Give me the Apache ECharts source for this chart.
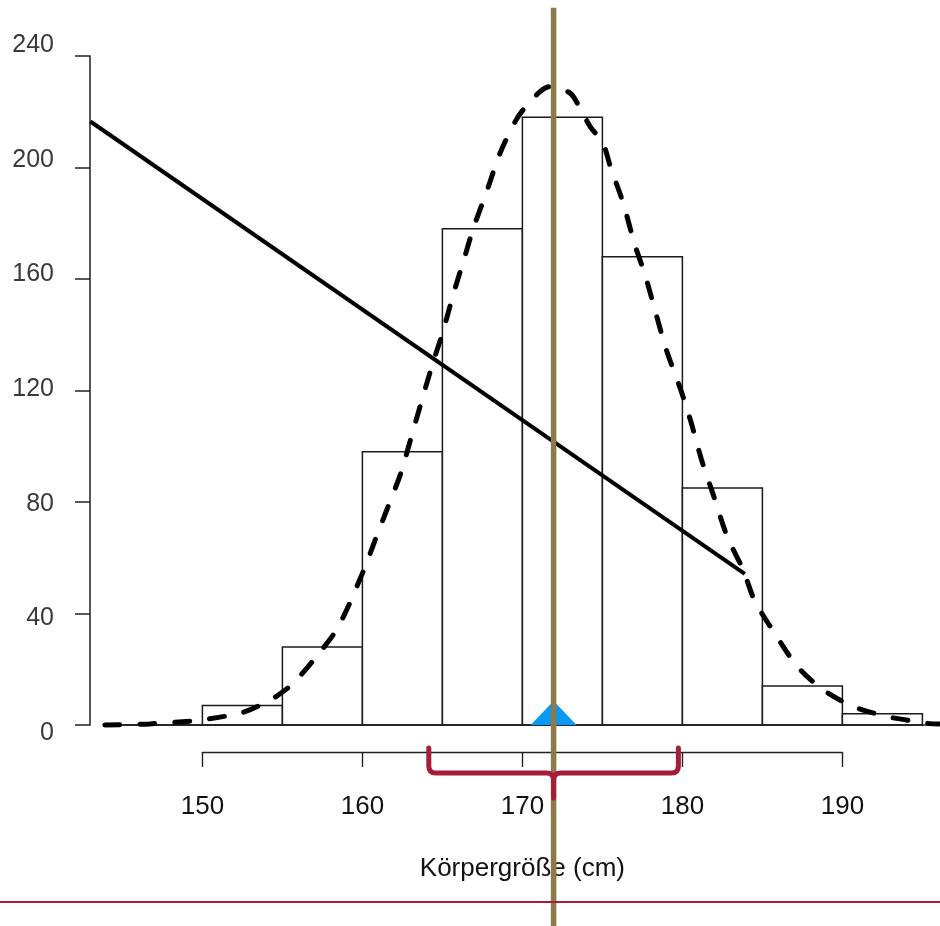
<!DOCTYPE html>
<html>
<head>
<meta charset="utf-8">
<script src="https://cdn.jsdelivr.net/npm/echarts@6/dist/echarts.min.js"></script>
<style>
html,body{margin:0;padding:0;background:#fff;}
#chart{width:940px;height:926px;}
</style>
</head>
<body>
<div id="chart"></div>
<script>
// ---------------- data ----------------
const binEdges = [145, 150, 155, 160, 165, 170, 175, 180, 185, 190, 195];
const counts   = [0, 7, 28, 98, 178, 218, 168, 85, 14, 4];

const densityX = [143.9, 146.7, 149.9, 152.4, 153.5, 154.6, 155.7, 157.2, 158.5, 160.0, 160.8, 161.6, 162.4, 163.0,
                  163.6, 164.4, 165.0, 165.7, 166.4, 166.9, 167.8, 168.6, 169.6, 170.2, 171.1, 171.7, 173.0, 173.6,
                  174.3, 175.0, 175.5, 176.3, 177.0, 177.7, 178.4, 179.0, 179.9, 180.5, 181.2, 181.9, 182.8, 183.8,
                  184.5, 185.7, 187.2, 188.8, 190.7, 192.8, 194.0, 195.3, 196.2];
const densityY = [0, 0.4, 1.8, 4.3, 6.8, 10.2, 15.1, 25.1, 35.3, 54.4, 66.4, 78.3, 90.3, 102.2,
                  114.2, 129.8, 140.5, 154.9, 168.0, 177.6, 191.9, 205.1, 217.0, 221.8, 227.2, 229.0, 226.6, 221.2,
                  214.1, 209.3, 200.3, 187.2, 172.8, 160.8, 146.5, 134.5, 120.2, 109.4, 95.1, 83.1, 67.6, 55.6,
                  44.8, 33.5, 20.9, 12.6, 6.6, 3.0, 1.8, 0.6, 0.3];

const regressionX = [143.0, 183.9];
const regressionY = [216.5, 54.2];

const meanHeight = 171.95;
const sdHeight = 7.8;
const goldLineY = [257.3, -80];

const yTickValues = [0, 40, 80, 120, 160, 200, 240];
const xTickValues = [150, 160, 170, 180, 190];
const xTitle = 'Körpergröße (cm)';

// ---------------- layout ----------------
const W = 940, H = 926;
const PX_PER_CM = 16;
const X150_PX = 202.4;
const Y0_PX = 725, Y240_PX = 56;
const PX_PER_UNIT = (Y0_PX - Y240_PX) / 240;
const xMin = 150 - X150_PX / PX_PER_CM;
const xMax = xMin + W / PX_PER_CM;
const yMax = Y0_PX / PX_PER_UNIT;
const yMin = -(H - Y0_PX) / PX_PER_UNIT;

const FONT = "'Liberation Sans', Arial, Helvetica, sans-serif";
const RED = '#a51d3b';

const histData = counts.map((c, i) => [binEdges[i], binEdges[i + 1], c]);
const densityData = densityX.map((x, i) => [x, densityY[i]]);
const regressionData = regressionX.map((x, i) => [x, regressionY[i]]);

const chart = echarts.init(document.getElementById('chart'), null, {renderer: 'canvas'});

const option = {
  animation: false,
  backgroundColor: '#ffffff',
  textStyle: {fontFamily: FONT},
  grid: [
    {left: 0, top: 0, width: W, height: H},                                   // data overlay
    {left: 90, top: Y240_PX, width: 10, height: Y0_PX - Y240_PX},             // y axis
    {left: 90, top: 45, width: 10, height: 688},                              // y labels
    {left: X150_PX, top: 740, width: 40 * PX_PER_CM, height: 12}              // x axis
  ],
  xAxis: [
    {gridIndex: 0, type: 'value', min: xMin, max: xMax, show: false},
    {gridIndex: 1, type: 'value', min: 0, max: 1, show: false},
    {gridIndex: 2, type: 'value', min: 0, max: 1, show: false},
    {gridIndex: 3, type: 'value', min: xTickValues[0], max: xTickValues[xTickValues.length - 1],
     interval: xTickValues[1] - xTickValues[0], position: 'bottom',
     axisLine: {show: true, lineStyle: {color: '#222', width: 1.4}},
     axisTick: {show: true, inside: false, length: 15, lineStyle: {color: '#222', width: 1.4}},
     axisLabel: {show: true, margin: 42, fontSize: 26, color: '#111', fontFamily: FONT},
     splitLine: {show: false},
     name: xTitle, nameLocation: 'middle', nameGap: 104,
     nameTextStyle: {fontSize: 26, color: '#111', fontFamily: FONT}}
  ],
  yAxis: [
    {gridIndex: 0, type: 'value', min: yMin, max: yMax, show: false},
    {gridIndex: 1, type: 'value', min: yTickValues[0], max: yTickValues[yTickValues.length - 1],
     interval: yTickValues[1] - yTickValues[0], position: 'left',
     axisLine: {show: true, lineStyle: {color: '#222', width: 1.5}},
     axisTick: {show: true, inside: false, length: 15, lineStyle: {color: '#222', width: 1.5}},
     axisLabel: {show: false}, splitLine: {show: false}},
    {gridIndex: 2, type: 'value', min: yTickValues[0], max: yTickValues[yTickValues.length - 1],
     interval: yTickValues[1] - yTickValues[0], position: 'left',
     axisLine: {show: false}, axisTick: {show: false}, splitLine: {show: false},
     axisLabel: {show: true, margin: 36, fontSize: 25, color: '#3a3a3a', fontFamily: FONT}},
    {gridIndex: 3, type: 'value', min: 0, max: 1, show: false}
  ],
  graphic: [
    {type: 'line', shape: {x1: 0, y1: 902, x2: W, y2: 902}, style: {stroke: RED, lineWidth: 2}, z: 100}
  ],
  series: [
    {
      name: 'Histogramm', type: 'custom', xAxisIndex: 0, yAxisIndex: 0, z: 2,
      data: histData,
      encode: {x: [0, 1], y: 2},
      renderItem: function (params, api) {
        const p0 = api.coord([api.value(0), api.value(2)]);
        const p1 = api.coord([api.value(1), 0]);
        return {
          type: 'rect',
          shape: {x: p0[0], y: p0[1], width: p1[0] - p0[0], height: p1[1] - p0[1]},
          style: {fill: '#ffffff', stroke: '#1a1a1a', lineWidth: 1.5}
        };
      }
    },
    {
      name: 'Basis', type: 'line', xAxisIndex: 0, yAxisIndex: 0, z: 3,
      data: [[densityX[0], 0], [xMax, 0]], showSymbol: false, symbol: 'none',
      lineStyle: {color: '#1a1a1a', width: 1.5}
    },
    {
      name: 'Dichte', type: 'line', xAxisIndex: 0, yAxisIndex: 0, z: 4,
      data: densityData, showSymbol: false, symbol: 'none', smooth: 0.3,
      lineStyle: {color: '#000', width: 5, type: [15, 20], cap: 'round'}
    },
    {
      name: 'Regression', type: 'line', xAxisIndex: 0, yAxisIndex: 0, z: 5,
      data: regressionData, showSymbol: false, symbol: 'none',
      lineStyle: {color: '#000', width: 4}
    },
    {
      name: 'Mittelwert', type: 'scatter', xAxisIndex: 0, yAxisIndex: 0, z: 6,
      data: [[meanHeight, 0]], symbol: 'triangle', symbolSize: [46, 24], symbolOffset: [0, '-50%'],
      itemStyle: {color: '#0a98f5', opacity: 1}
    },
    {
      name: 'Mittelwertlinie', type: 'line', xAxisIndex: 0, yAxisIndex: 0, z: 7,
      data: goldLineY.map(v => [meanHeight, v]), showSymbol: false, symbol: 'none',
      lineStyle: {color: '#8c7a4b', width: 5.5}
    },
    {
      name: 'Standardabweichung', type: 'custom', xAxisIndex: 0, yAxisIndex: 0, z: 8,
      data: [[meanHeight - sdHeight, meanHeight + sdHeight, meanHeight]],
      renderItem: function (params, api) {
        const xl = api.coord([api.value(0), 0])[0];
        const xr = api.coord([api.value(1), 0])[0];
        const xc = api.coord([api.value(2), 0])[0];
        const y0 = api.coord([api.value(2), 0])[1];
        const yt = y0 + 23, yh = y0 + 48, yp = y0 + 73, r = 7;
        const d = 'M' + xl + ' ' + yt +
          ' L' + xl + ' ' + (yh - r) +
          ' Q' + xl + ' ' + yh + ' ' + (xl + r) + ' ' + yh +
          ' L' + (xc - r) + ' ' + yh +
          ' Q' + xc + ' ' + yh + ' ' + xc + ' ' + (yh + r) +
          ' L' + xc + ' ' + yp +
          ' M' + xc + ' ' + (yh + r) +
          ' Q' + xc + ' ' + yh + ' ' + (xc + r) + ' ' + yh +
          ' L' + (xr - r) + ' ' + yh +
          ' Q' + xr + ' ' + yh + ' ' + xr + ' ' + (yh - r) +
          ' L' + xr + ' ' + yt;
        return {
          type: 'path',
          shape: {pathData: d},
          style: {fill: 'none', stroke: RED, lineWidth: 5, lineJoin: 'round', lineCap: 'round'}
        };
      }
    }
  ]
};

chart.setOption(option);
</script>
</body>
</html>
